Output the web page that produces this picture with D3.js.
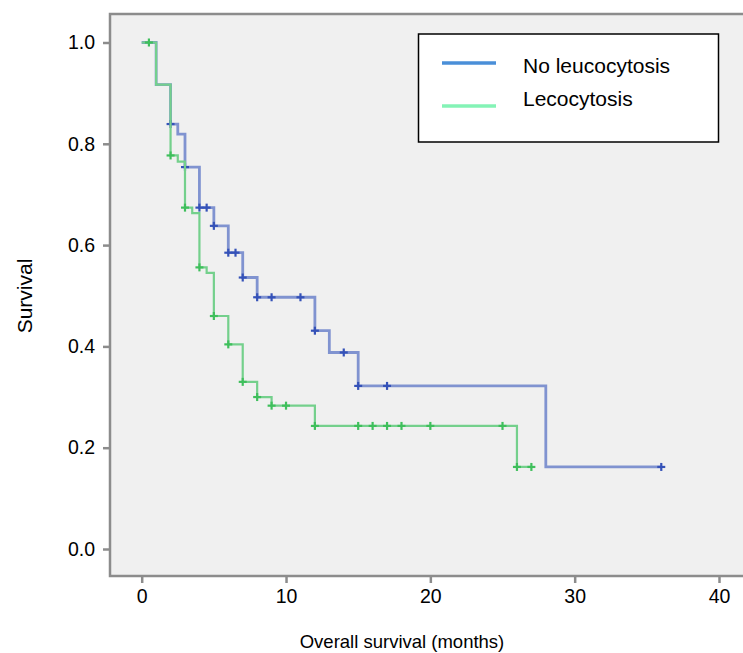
<!DOCTYPE html>
<html>
<head>
<meta charset="utf-8">
<script src="https://cdn.jsdelivr.net/npm/d3@7"></script>
<style>
  body { margin: 0; background: #fff; }
  svg { display: block; font-family: "Liberation Sans", Arial, sans-serif; }
</style>
</head>
<body>
<svg id="chart"></svg>
<script>
// ===== DATA =====
const seriesNames = ["No leucocytosis", "Lecocytosis"];

// step times (months) and survival after each step
const noLeucoTimes = [0, 1, 2, 2.5, 3, 4, 5, 6, 7, 8, 12, 13, 15, 28];
const noLeucoSurv = [1.0, 0.917, 0.839, 0.819, 0.754, 0.674, 0.638, 0.585, 0.536, 0.497, 0.431, 0.388, 0.322, 0.162];
const noLeucoEnd = 36;
const noLeucoCensor = [2, 3, 4, 4.5, 5, 6, 6.5, 7, 8, 9, 11, 12, 14, 15, 17, 36];

const leucoTimes = [0, 1, 2, 2.5, 3, 3.5, 4, 4.5, 5, 6, 7, 8, 9, 12, 26];
const leucoSurv = [1.0, 0.917, 0.777, 0.765, 0.674, 0.663, 0.556, 0.545, 0.46, 0.404, 0.330, 0.300, 0.283, 0.243, 0.162];
const leucoEnd = 27;
const leucoCensor = [0.5, 2, 3, 4, 5, 6, 7, 8, 9, 10, 12, 15, 16, 17, 18, 20, 25, 26, 27];

const xTicks = [0, 10, 20, 30, 40];
const yTicks = [0.0, 0.2, 0.4, 0.6, 0.8, 1.0];

function renderChart() {

  const width = 743;
  const height = 653;

  const svg = d3.select("#chart")
    .attr("width", width)
    .attr("height", height);

  const frame = { left: 110, top: 14, right: 770, bottom: 576 };

  const xScale = d3.scaleLinear()
    .domain([0, 40])
    .range([141.7, 719]);

  const yScale = d3.scaleLinear()
    .domain([0, 1])
    .range([549, 42.5]);

  // ===== PLOT FRAME =====
  svg.append("rect")
    .attr("x", frame.left)
    .attr("y", frame.top)
    .attr("width", frame.right - frame.left)
    .attr("height", frame.bottom - frame.top)
    .attr("fill", "#f0f0f0")
    .attr("stroke", "#8c8c8c")
    .attr("stroke-width", 2.5);

  // ===== AXES =====
  const xAxis = svg.append("g")
    .attr("transform", `translate(0,${frame.bottom})`)
    .call(d3.axisBottom(xScale).tickValues(xTicks).tickSize(7).tickPadding(6).tickFormat(d3.format("d")));

  const yAxis = svg.append("g")
    .attr("transform", `translate(${frame.left},0)`)
    .call(d3.axisLeft(yScale).tickValues(yTicks).tickSize(7).tickPadding(8).tickFormat(d3.format(".1f")));

  [xAxis, yAxis].forEach(ax => {
    ax.select(".domain").remove();
    ax.selectAll(".tick line").attr("stroke", "#8c8c8c").attr("stroke-width", 2.5);
    ax.selectAll(".tick text")
      .attr("fill", "#000")
      .attr("font-size", 19.5)
      .attr("font-family", "Liberation Sans, Arial, sans-serif");
  });
  xAxis.selectAll(".tick line").attr("y1", 1);
  yAxis.selectAll(".tick line").attr("x1", -1);

  // ===== AXIS LABELS =====
  svg.append("text")
    .attr("x", 402)
    .attr("y", 648)
    .attr("text-anchor", "middle")
    .attr("font-size", 18.5)
    .text("Overall survival (months)");

  svg.append("text")
    .attr("transform", "rotate(-90)")
    .attr("x", -296)
    .attr("y", 32)
    .attr("text-anchor", "middle")
    .attr("font-size", 21)
    .text("Survival");

  // ===== KM CURVES =====
  function stepPoints(times, surv, end) {
    const pts = times.map((t, i) => ({ t: t, s: surv[i] }));
    pts.push({ t: end, s: surv[surv.length - 1] });
    return pts;
  }

  function survAt(times, surv, t) {
    let s = surv[0];
    times.forEach((tt, i) => { if (tt <= t) s = surv[i]; });
    return s;
  }

  const line = d3.line()
    .x(d => xScale(d.t))
    .y(d => yScale(d.s))
    .curve(d3.curveStepAfter);

  const series = [
    { times: leucoTimes, surv: leucoSurv, end: leucoEnd, censor: leucoCensor, color: "#74d08c", mark: "#3fbf5c", width: 2.2 },
    { times: noLeucoTimes, surv: noLeucoSurv, end: noLeucoEnd, censor: noLeucoCensor, color: "#8093d0", mark: "#3552b8", width: 2.8 }
  ];

  const chartGroup = svg.append("g");

  // draw blue first so green sits on top at the shared start
  [series[1], series[0]].forEach(sr => {
    chartGroup.append("path")
      .datum(stepPoints(sr.times, sr.surv, sr.end))
      .attr("fill", "none")
      .attr("stroke", sr.color)
      .attr("stroke-width", sr.width)
      .attr("d", line);

    const marks = chartGroup.append("g");
    sr.censor.forEach(t => {
      const cx = xScale(t);
      const cy = yScale(survAt(sr.times, sr.surv, t));
      marks.append("line")
        .attr("x1", cx - 4).attr("x2", cx + 4)
        .attr("y1", cy).attr("y2", cy)
        .attr("stroke", sr.mark).attr("stroke-width", 2.2);
      marks.append("line")
        .attr("x1", cx).attr("x2", cx)
        .attr("y1", cy - 4).attr("y2", cy + 4)
        .attr("stroke", sr.mark).attr("stroke-width", 2.2);
    });
  });

  // ===== LEGEND =====
  const legend = svg.append("g");

  legend.append("rect")
    .attr("x", 418.5)
    .attr("y", 34)
    .attr("width", 300)
    .attr("height", 108)
    .attr("fill", "#fff")
    .attr("stroke", "#000")
    .attr("stroke-width", 1.5);

  const legendColors = ["#4a8fd8", "#84f3b6"];
  const legendY = [63, 106];
  const legendBase = [72.5, 106];

  seriesNames.forEach((name, i) => {
    legend.append("line")
      .attr("x1", 442)
      .attr("x2", 496)
      .attr("y1", legendY[i])
      .attr("y2", legendY[i])
      .attr("stroke", legendColors[i])
      .attr("stroke-width", 3.5);

    legend.append("text")
      .attr("x", 523)
      .attr("y", legendBase[i])
      .attr("font-size", 21)
      .text(name);
  });
}

renderChart();
</script>
</body>
</html>
